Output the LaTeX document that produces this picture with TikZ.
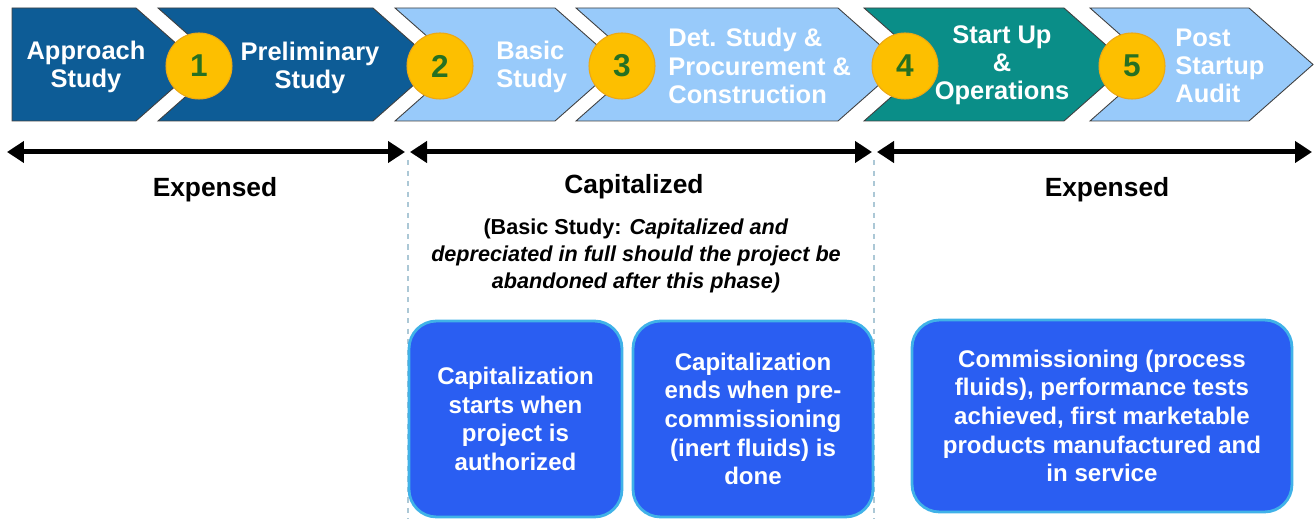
\documentclass[tikz,border=0pt]{standalone}
\usepackage{fontspec}
\setmainfont{Liberation Sans}
\usetikzlibrary{arrows.meta}

\definecolor{phdark}{RGB}{13,92,150}
\definecolor{phlight}{RGB}{152,202,250}
\definecolor{phteal}{RGB}{10,142,136}
\definecolor{dotgold}{RGB}{253,191,0}
\definecolor{dotrim}{RGB}{236,168,20}
\definecolor{numgreen}{RGB}{38,112,34}
\definecolor{boxblue}{RGB}{42,94,242}
\definecolor{boxrim}{RGB}{64,178,232}
\definecolor{sepgray}{RGB}{172,200,214}

\begin{document}
\begin{tikzpicture}[x=0.02cm, y=-0.02cm,
    chev/.style={draw=black!75, line width=0.5pt},
    phase/.style={text=white, font=\bfseries\fontsize{14.5}{16}\selectfont, align=center, inner sep=0pt},
    phaseleft/.style={phase, align=left, anchor=west},
    dot/.style={circle, fill=dotgold, draw=dotrim, line width=0.6pt, minimum size=1.32cm, inner sep=0pt,
                text=numgreen, font=\bfseries\fontsize{18}{18}\selectfont},
    span/.style={{Triangle[length=0.34cm,width=0.42cm]}-{Triangle[length=0.34cm,width=0.42cm]}, line width=0.1cm},
    head/.style={font=\bfseries\fontsize{15}{18}\selectfont},
    note/.style={font=\bfseries\fontsize{12.3}{15.3}\selectfont, align=center},
    sep/.style={draw=sepgray, dashed, line width=1pt},
    card/.style={rounded corners=0.55cm, fill=boxblue, draw=boxrim, line width=1.6pt, text=white, align=center,
                 font=\bfseries\fontsize{13.7}{16.3}\selectfont}]

\useasboundingbox (0,0) rectangle (1315,519);

\draw[chev, fill=phdark] (12,8) -- (136,8) -- (200,64.5) -- (136,121) -- (12,121) -- cycle;
\foreach \l/\r/\c in {158/373/phdark, 395/555/phlight, 576/838/phlight, 864/1064/phteal, 1090/1249/phlight}
  \draw[chev, fill=\c] (\l,8) -- (\r,8) -- (\r+64,64.5) -- (\r,121) -- (\l,121) -- (\l+64,64.5) -- cycle;

\node[phase] (approach) at (86,67) {Approach\\Study};
\node[phase] (prelim) at (310,68) {Preliminary\\Study};
\node[phaseleft] (basic) at (496,67) {Basic\\Study};
\node[phaseleft] (detail) at (668,66) {Det. Study \&\\Procurement \&\\Construction};
\node[phase] (startup) at (1002,65) {Start Up\\\&\\Operations};
\node[phaseleft] (audit) at (1175,66) {Post\\Startup\\Audit};

\node[dot] (c1) at (199,66) {1};
\node[dot] (c2) at (440,66) {2};
\node[dot] (c3) at (622,66) {3};
\node[dot] (c4) at (905,66) {4};
\node[dot] (c5) at (1132,66) {5};

\coordinate (a0) at (7,152);
\coordinate (a1) at (405,152);
\coordinate (b0) at (410,152);
\coordinate (b1) at (872,152);
\coordinate (d0) at (877,152);
\coordinate (d1) at (1312,152);
\draw[span] (a0) -- (a1);
\draw[span] (b0) -- (b1);
\draw[span] (d0) -- (d1);

\coordinate (s1top) at (408,160);
\coordinate (s1bot) at (408,519);
\coordinate (s2top) at (874,160);
\coordinate (s2bot) at (874,519);
\draw[sep] (s1top) -- (s1bot);
\draw[sep] (s2top) -- (s2bot);

\node[head] (exp1) at (215,190) {Expensed};
\node[head] (cap) at (634,187) {Capitalized};
\node[head] (exp2) at (1107,190) {Expensed};
\node[note] (capnote) at (636,256) {(Basic Study: \textit{Capitalized and}\\
  \textit{depreciated in full should the project be}\\\textit{abandoned after this phase)}};

\node[card, minimum width=4.26cm, minimum height=3.92cm] (capstart) at (515.5,419)
  {Capitalization\\starts when\\project is\\authorized};
\node[card, minimum width=4.8cm, minimum height=3.92cm] (capend) at (753,419)
  {Capitalization\\ends when pre-\\commissioning\\(inert fluids) is\\done};
\node[card, minimum width=7.6cm, minimum height=3.84cm] (commission) at (1102,416)
  {Commissioning (process\\fluids), performance tests\\achieved, first marketable\\products manufactured and\\in service};
\end{tikzpicture}
\end{document}
